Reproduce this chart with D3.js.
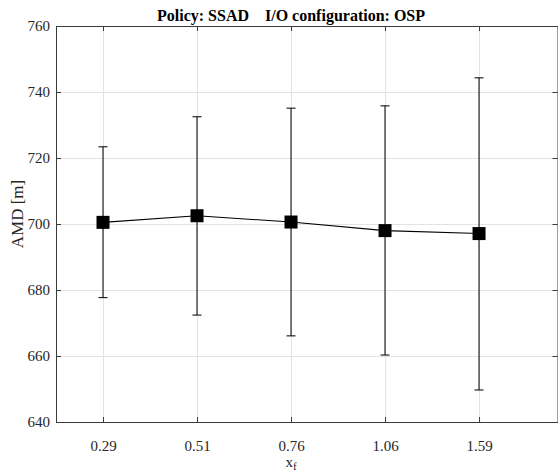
<!DOCTYPE html>
<html lang="en">
<head>
    <meta charset="utf-8">
    <title>AMD vs x_f</title>
    <script src="https://d3js.org/d3.v7.min.js"></script>
    <style>
        body { margin: 0; background: #fff; }
        svg { display: block; }
        svg text { font-family: "Liberation Serif", "Times New Roman", serif; }
        .title { white-space: pre; }
    </style>
</head>
<body>
<div id="chart"></div>
<script>
    // values
    const categories = ["0.29", "0.51", "0.76", "1.06", "1.59"];
    const meanAMD  = [700.5, 702.5, 700.6, 698.0, 697.1];
    const upperAMD = [723.4, 732.5, 735.1, 735.8, 744.3];
    const lowerAMD = [677.7, 672.4, 666.1, 660.3, 649.7];
    const yTicks = [640, 660, 680, 700, 720, 740, 760];

    const width = 558, height = 472;
    const margin = {top: 26, right: 0, bottom: 50, left: 56};
    const plotBottom = height - margin.bottom;
    const plotRight = width - margin.right;

    const svg = d3.select("#chart").append("svg")
        .attr("width", width)
        .attr("height", height);

    const idx = categories.map((c, i) => i + 1);

    const x = d3.scaleLinear()
        .domain([0.5, 5.84])
        .range([margin.left, plotRight]);

    const y = d3.scaleLinear()
        .domain([640, 760])
        .range([plotBottom, margin.top]);

    // grid
    svg.append("g")
        .attr("transform", `translate(0,${plotBottom})`)
        .call(d3.axisBottom(x).tickValues(idx).tickSize(-(plotBottom - margin.top)).tickFormat(""))
        .call(g => g.select(".domain").remove())
        .call(g => g.selectAll("line").attr("stroke", "#e3e3e3"));
    svg.append("g")
        .attr("transform", `translate(${margin.left},0)`)
        .call(d3.axisLeft(y).tickValues(yTicks).tickSize(-(plotRight - margin.left)).tickFormat(""))
        .call(g => g.select(".domain").remove())
        .call(g => g.selectAll("line").attr("stroke", "#e3e3e3"));

    const axisColor = "#3a3a3a";
    const styleAxis = g => {
        g.attr("font-family", "Liberation Serif, serif").attr("font-size", 15);
        g.select(".domain").attr("stroke", axisColor);
        g.selectAll(".tick line").attr("stroke", axisColor);
        g.selectAll("text").attr("fill", "#262626");
    };

    // bottom axis with labels
    svg.append("g")
        .attr("transform", `translate(0,${plotBottom})`)
        .call(d3.axisBottom(x).tickValues(idx).tickFormat((d, i) => categories[i])
            .tickSizeInner(-5).tickSizeOuter(0).tickPadding(18))
        .call(styleAxis);
    // top axis
    svg.append("g")
        .attr("transform", `translate(0,${margin.top})`)
        .call(d3.axisTop(x).tickValues(idx).tickFormat("").tickSizeInner(-5).tickSizeOuter(0))
        .call(styleAxis);
    // left axis with labels
    svg.append("g")
        .attr("transform", `translate(${margin.left},0)`)
        .call(d3.axisLeft(y).tickValues(yTicks).tickSizeInner(-5).tickSizeOuter(0).tickPadding(6))
        .call(styleAxis);
    // right axis
    svg.append("g")
        .attr("transform", `translate(${plotRight - 0.5},0)`)
        .call(d3.axisRight(y).tickValues(yTicks).tickFormat("").tickSizeInner(-5).tickSizeOuter(0))
        .call(styleAxis);

    // error bars
    const capW = 9;
    const bars = svg.append("g").attr("stroke", "#111").attr("stroke-width", 1.1);
    idx.forEach((d, i) => {
        bars.append("line")
            .attr("x1", x(d)).attr("x2", x(d))
            .attr("y1", y(lowerAMD[i])).attr("y2", y(upperAMD[i]));
        bars.append("line")
            .attr("x1", x(d) - capW / 2).attr("x2", x(d) + capW / 2)
            .attr("y1", y(upperAMD[i])).attr("y2", y(upperAMD[i]));
        bars.append("line")
            .attr("x1", x(d) - capW / 2).attr("x2", x(d) + capW / 2)
            .attr("y1", y(lowerAMD[i])).attr("y2", y(lowerAMD[i]));
    });

    // mean line
    const line = d3.line()
        .x((d, i) => x(idx[i]))
        .y(d => y(d));
    svg.append("path")
        .datum(meanAMD)
        .attr("fill", "none")
        .attr("stroke", "#000")
        .attr("stroke-width", 1.1)
        .attr("d", line);

    // markers
    const ms = 13;
    svg.append("g").selectAll("rect")
        .data(meanAMD)
        .join("rect")
        .attr("x", (d, i) => x(idx[i]) - ms / 2)
        .attr("y", d => y(d) - ms / 2)
        .attr("width", ms)
        .attr("height", ms)
        .attr("fill", "#000");

    // title
    svg.append("text")
        .attr("class", "title")
        .attr("x", 291)
        .attr("y", 21)
        .attr("text-anchor", "middle")
        .attr("font-weight", "bold")
        .attr("font-size", 16)
        .attr("fill", "#000")
        .text("Policy: SSAD    I/O configuration: OSP");

    // y label
    svg.append("text")
        .attr("transform", "translate(23,214) rotate(-90)")
        .attr("text-anchor", "middle")
        .attr("font-size", 17)
        .attr("fill", "#262626")
        .text("AMD [m]");

    // x label
    const xl = svg.append("text")
        .attr("x", 291)
        .attr("y", 467)
        .attr("text-anchor", "middle")
        .attr("font-size", 15)
        .attr("fill", "#262626");
    xl.append("tspan").text("x");
    xl.append("tspan").attr("dy", 3).attr("font-size", 11).text("f");
</script>
</body>
</html>
